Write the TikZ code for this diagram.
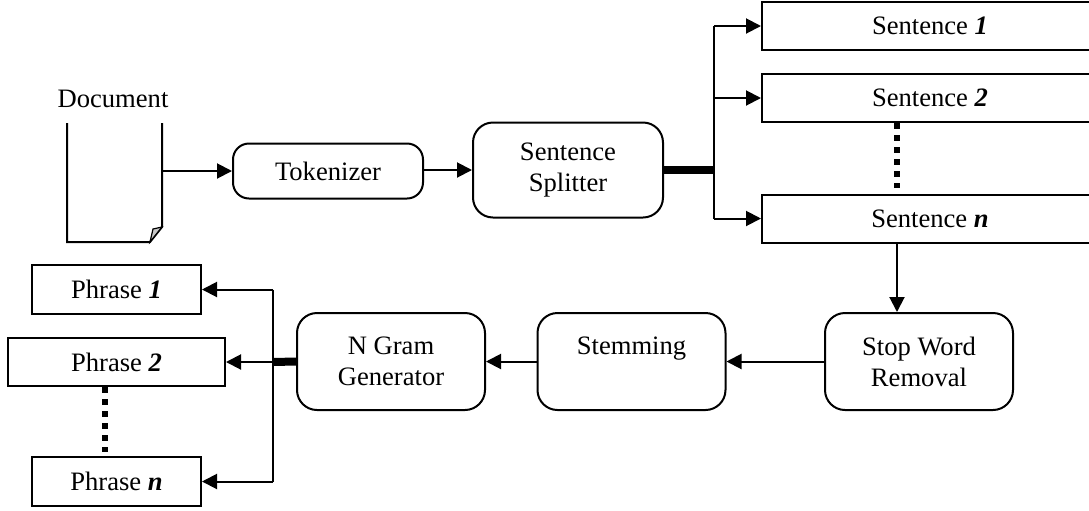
\documentclass[tikz,border=0pt]{standalone}
\usepackage{fontspec}
\setmainfont{Liberation Serif}
\usetikzlibrary{arrows.meta}
\begin{document}
\begin{tikzpicture}[x=0.5pt,y=-0.5pt, line width=1pt,
 txt/.style={inner sep=0pt, align=center, font=\fontsize{13.3}{15.5}\selectfont},
 box/.style={txt, draw, rectangle},
 rbox/.style={box, rounded corners=8pt},
 arr/.style={-{Triangle[length=7.5pt,width=7.5pt]}},
 thickln/.style={line width=4pt},
 dots/.style={line width=3pt, dash pattern=on 3pt off 3pt}]
\useasboundingbox (0,0) rectangle (1089,510);

% document
\node[txt] (doclbl) at (113,99) {Document};
\draw (67,123) -- (67,242) -- (150,242) -- (162,227) -- (162,123);
\filldraw[fill=gray!45, line width=0.6pt] (150,242) -- (153,229) -- (162,227) -- cycle;
\coordinate (docR) at (162,171);

% top row
\node[rbox, minimum width=95pt, minimum height=27.5pt] (tok) at (328,171) {Tokenizer};
\node[rbox, rounded corners=10pt, minimum width=95pt, minimum height=47.5pt] (split) at (568,170) {Sentence\\Splitter};

\node[box, minimum width=168pt, minimum height=24pt] (s1) at (930,26) {Sentence \textbf{\textit{1}}};
\node[box, minimum width=168pt, minimum height=24pt] (s2) at (930,98) {Sentence \textbf{\textit{2}}};
\node[box, minimum width=168pt, minimum height=24pt] (sn) at (930,218.5) {Sentence \textbf{\textit{n}}};

% bottom row
\node[rbox, rounded corners=10pt, minimum width=94pt, minimum height=48.5pt] (stop) at (919,361.5) {Stop Word\\Removal};
\node[rbox, rounded corners=10pt, minimum width=94pt, minimum height=48.5pt] (stem) at (631.5,361.5) {Stemming\\\phantom{Generator}};
\node[rbox, rounded corners=10pt, minimum width=94pt, minimum height=48.5pt] (ngram) at (391,361.5) {N Gram\\Generator};

\node[box, minimum width=84.5pt, minimum height=24.5pt] (p1) at (116.5,289.5) {Phrase \textbf{\textit{1}}};
\node[box, minimum width=108.5pt, minimum height=24pt] (p2) at (116.5,362) {Phrase \textbf{\textit{2}}};
\node[box, minimum width=84.5pt, minimum height=24.5pt] (pn) at (116.5,481.5) {Phrase \textbf{\textit{n}}};

% connectors top
\draw[arr] (docR) -- (docR -| tok.west);
\draw[arr] (tok.east |- split.west) -- (split.west);
\coordinate (bus1) at (714,170);
\draw[thickln] (split.east) -- (bus1);
\draw (bus1 |- s1.west) -- (bus1 |- sn.west);
\draw[arr] (bus1 |- s1.west) -- (s1.west);
\draw[arr] (bus1 |- s2.west) -- (s2.west);
\draw[arr] (bus1 |- sn.west) -- (sn.west);
\coordinate (dx) at (897,0);
\draw[dots, shorten >=3pt] (dx |- s2.south) -- (dx |- sn.north);
\draw[arr] (dx |- sn.south) -- (dx |- stop.north);

% connectors bottom
\draw[arr] (stop.west) -- (stem.east);
\draw[arr] (stem.west) -- (ngram.east);
\coordinate (bus2) at (273,362);
\draw[thickln] (ngram.west) -- (bus2);
\draw (bus2 |- p1.east) -- (bus2 |- pn.east);
\draw[arr] (bus2 |- p1.east) -- (p1.east);
\draw[arr] (bus2 |- p2.east) -- (p2.east);
\draw[arr] (bus2 |- pn.east) -- (pn.east);
\coordinate (px) at (105,0);
\draw[dots, shorten >=2pt] (px |- p2.south) -- (px |- pn.north);
\end{tikzpicture}
\end{document}
